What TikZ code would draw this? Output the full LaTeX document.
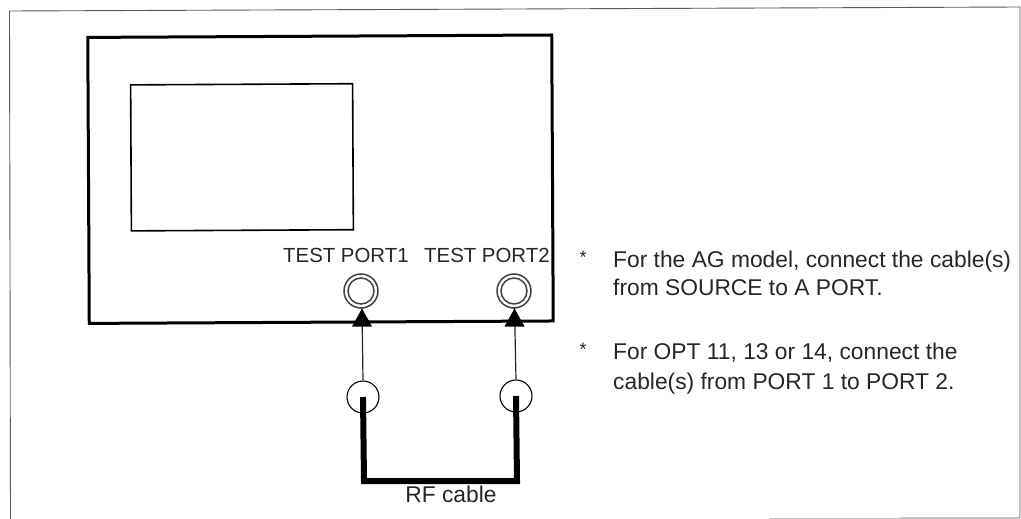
\documentclass[tikz,border=0pt]{standalone}
\usepackage{fontspec}
\setmainfont{Liberation Sans}
\begin{document}
\begin{tikzpicture}[x=1pt,y=-1pt,
  lab/.style={inner sep=0pt,font=\fontsize{22.8pt}{26pt}\selectfont,text=black!85,anchor=base west},
  starlab/.style={inner sep=0pt,font=\fontsize{18pt}{20pt}\selectfont,text=black!85,anchor=base west},
  toplab/.style={inner sep=0pt,font=\fontsize{20.4pt}{24pt}\selectfont,text=black!85,anchor=base west},
  plug/.style={circle,draw=black,line width=1.1pt,minimum size=32pt,inner sep=0pt},
  portout/.style={circle,draw=black!75,line width=1.5pt,minimum size=34pt,inner sep=0pt},
  portin/.style={circle,draw=black!75,line width=1.5pt,minimum size=26pt,inner sep=0pt},
  tip/.style={fill=black},
  framel/.style={line width=0.9pt,draw=black!65}]
\useasboundingbox (0,0) rectangle (1021,519);
\coordinate (f1) at (10.5,519);
\coordinate (f2) at (9.5,11);
\coordinate (f3) at (1020,7);
\coordinate (f4) at (1020,518);
\coordinate (f5) at (900,518);
\coordinate (f6) at (770,518);
\draw[framel] (f1) -- (f2) -- (f3) -- (f4) -- (f5);
\draw[line width=0.9pt,black!25] (f5) -- (f6);
\node[draw=black,line width=3pt,minimum width=464pt,minimum height=286pt,rotate=0.3,inner sep=0pt] (panel) at (320.5,179.2) {};
\node[draw=black,line width=1.6pt,minimum width=222pt,minimum height=146pt,rotate=0.3,inner sep=0pt] (screen) at (242,157.3) {};
\node[toplab] (t1) at (283,262) {TEST PORT1};
\node[toplab] (t2) at (424,262) {TEST PORT2};
\node[portout] (p1) at (361,291) {};
\node[portin] (p1i) at (p1) {};
\node[portout] (p2) at (514,291) {};
\node[portin] (p2i) at (p2) {};
\node[plug] (c1) at (363,397) {};
\node[plug] (c2) at (516,396) {};
\coordinate (a1) at (362,308.5);
\coordinate (a2) at (514.5,308.5);
\draw[line width=1.2pt,black!85] (c1.north) -- (a1);
\draw[line width=1.2pt,black!85] (c2.north) -- (a2);
\fill[tip] (a1) -- ++(10,18) -- ++(-20,0) -- cycle;
\fill[tip] (a2) -- ++(10,18) -- ++(-20,0) -- cycle;
\draw[line width=6pt,line join=miter] (c1.center) -- (364,481) -- (517,481) -- (c2.center);
\node[lab,anchor=base] (rf) at (451,502) {RF cable};
\node[starlab] (s1) at (579.5,263.5) {*};
\node[lab] (l1) at (613,267) {For the AG model, connect the cable(s)};
\node[lab] (l2) at (613,295) {from SOURCE to A PORT.};
\node[starlab] (s2) at (579.5,355.5) {*};
\node[lab] (l3) at (613,359) {For OPT 11, 13 or 14, connect the};
\node[lab] (l4) at (613,389) {cable(s) from PORT 1 to PORT 2.};
\end{tikzpicture}
\end{document}
